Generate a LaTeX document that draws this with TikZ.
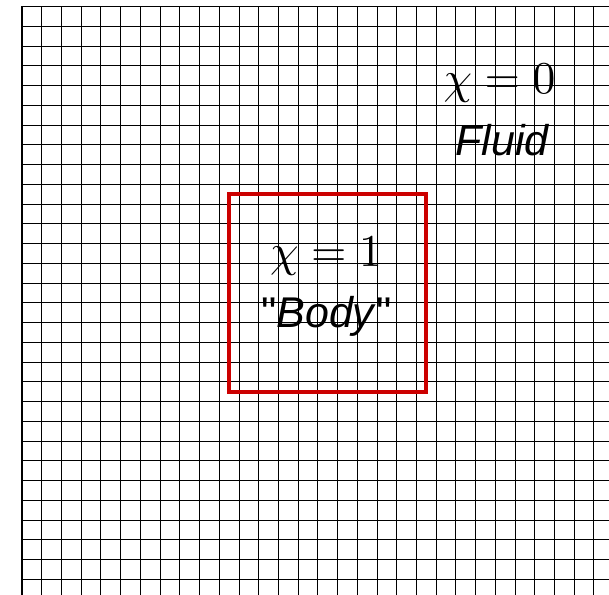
\documentclass[tikz,border=0pt]{standalone}
\usepackage{fontspec}
\newfontfamily\labelfont{Liberation Sans}
\begin{document}
\begin{tikzpicture}[x=1pt,y=-1pt,
  gridline/.style={black,line width=0.8pt},
  frameline/.style={black,line width=2.4pt},
  bodybox/.style={draw=bodyred,line width=3.8pt},
  mathlabel/.style={anchor=base,inner sep=0pt},
  wordlabel/.style={anchor=base,inner sep=0pt,font=\fontsize{43}{50}\selectfont\labelfont}]
\definecolor{bodyred}{RGB}{204,0,0}
\useasboundingbox (0,0) rectangle (609,594);
\fill[white] (0,0) rectangle (609,594);
\begin{scope}
  \clip (0,0) rectangle (609,594);
  \foreach \k in {0,...,29} \draw[gridline] (22+19.72*\k,6.5) -- (22+19.72*\k,600);
  \foreach \k in {0,...,29} \draw[gridline] (22,6.5+19.75*\k) -- (615,6.5+19.75*\k);
  \draw[frameline] (22,600) -- (22,6.5);
  \draw[black,line width=1.8pt] (21,6.5) -- (615,6.5);
\end{scope}
\draw[bodybox] (229.06,194.1) rectangle (426.26,391.6);
\node[mathlabel] (chione) at (326,266) {\scalebox{4.55}{$\chi=1$}};
\node[wordlabel] (body) at (326.5,327.7) {"\textit{Body}"};
\node[mathlabel] (chizero) at (499.5,93.3) {\scalebox{4.55}{$\chi=0$}};
\node[wordlabel] (fluid) at (502.5,155) {\textit{Fluid}};
\end{tikzpicture}
\end{document}
